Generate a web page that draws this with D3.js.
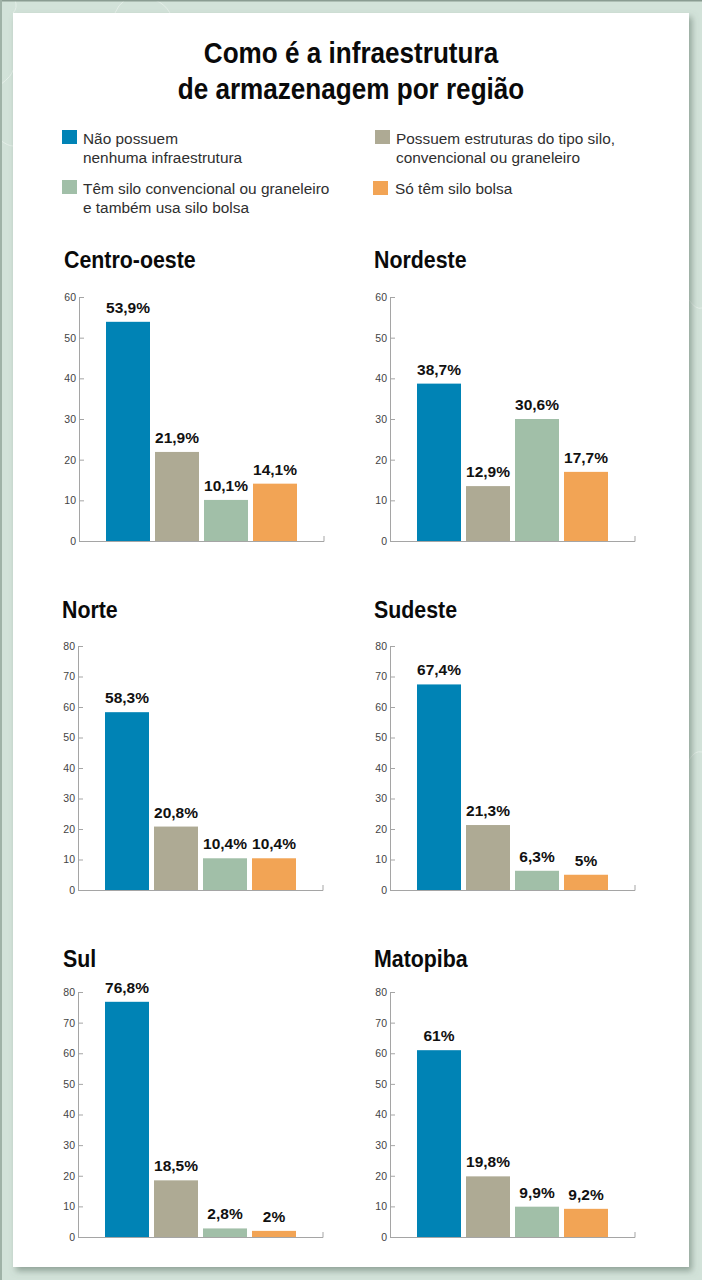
<!DOCTYPE html>
<html>
<head>
<meta charset="utf-8">
<script src="https://cdn.jsdelivr.net/npm/d3@7"></script>
<style>
html, body { margin: 0; padding: 0; background: #d2e2d9; }
svg { display: block; }
.tick text { font-family: "Liberation Sans", sans-serif; font-size: 10.5px; fill: #444; }
.tick line, .domain { stroke: #a5a5a5; stroke-width: 1; fill: none; }
</style>
</head>
<body>
<svg id="chart" width="702" height="1280"></svg>
<script>
// data
var categories = ['nenhuma', 'silo', 'ambos', 'bolsa'];
var colors = ['#0083b5', '#aeaa94', '#a1bfa8', '#f2a455'];
var regions = ['Centro-oeste', 'Nordeste', 'Norte', 'Sudeste', 'Sul', 'Matopiba'];
var centroOeste = [53.9, 21.9, 10.1, 14.1];
var nordeste = [38.7, 12.9, 30.6, 17.7];
var norte = [58.3, 20.8, 10.4, 10.4];
var sudeste = [67.4, 21.3, 6.3, 5];
var sul = [76.8, 18.5, 2.8, 2];
var matopiba = [61, 19.8, 9.9, 9.2];
var regionValues = [centroOeste, nordeste, norte, sudeste, sul, matopiba];
// the Nordeste bars in the picture don't quite agree with their printed labels
var nordesteHeights = [38.7, 13.5, 30, 17];
var regionHeights = [centroOeste, nordesteHeights, norte, sudeste, sul, matopiba];
var ticks60 = [0, 10, 20, 30, 40, 50, 60];
var ticks80 = [0, 10, 20, 30, 40, 50, 60, 70, 80];
var regionTicks = [ticks60, ticks60, ticks80, ticks80, ticks80, ticks80];
var titleLines = ['Como é a infraestrutura', 'de armazenagem por região'];
var legendLines = [
    ['Não possuem', 'nenhuma infraestrutura'],
    ['Possuem estruturas do tipo silo,', 'convencional ou graneleiro'],
    ['Têm silo convencional ou graneleiro', 'e também usa silo bolsa'],
    ['Só têm silo bolsa']
];

// layout, same order as regions
var frames = [
    {axisX: 79, barX: 106, top: 297, bottom: 541, titleX: 64, titleY: 268},
    {axisX: 390, barX: 417, top: 297, bottom: 541, titleX: 374, titleY: 268},
    {axisX: 78, barX: 105, top: 646, bottom: 890, titleX: 62, titleY: 618},
    {axisX: 390, barX: 417, top: 646, bottom: 890, titleX: 374, titleY: 618},
    {axisX: 78, barX: 105, top: 992, bottom: 1237, titleX: 63, titleY: 967},
    {axisX: 390, barX: 417, top: 992, bottom: 1237, titleX: 374, titleY: 967}
];
var legendPos = [
    {x: 62, y: 130, tx: 83, ty: 144, color: 0},
    {x: 375, y: 130, tx: 396, ty: 144, color: 1},
    {x: 62, y: 180, tx: 83, ty: 194, color: 2},
    {x: 373, y: 181, tx: 395, ty: 194, color: 3}
];
// faint line work in the page margin
var marginCurves = [
    'M0,85 Q12,76 13,70',
    'M0,140 Q8,146 13,146',
    'M15,0 Q18,8 13,13',
    'M115,13 Q118,5 125,0',
    'M170,13 Q165,4 155,0',
    'M689,300 Q696,310 702,308',
    'M689,760 Q695,750 702,752'
];

var svg = d3.select('#chart');
var defs = svg.append('defs');
var shadow = defs.append('filter').attr('id', 'shadow')
    .attr('x', '-5%').attr('y', '-5%').attr('width', '110%').attr('height', '110%');
shadow.append('feDropShadow')
    .attr('dx', 3).attr('dy', 4).attr('stdDeviation', 3)
    .attr('flood-color', '#5d6f64').attr('flood-opacity', 0.55);

// background
svg.append('rect').attr('width', 702).attr('height', 1280).attr('fill', '#d2e2d9');
svg.append('g').selectAll('path')
    .data(marginCurves)
    .enter()
    .append('path')
    .attr('d', function (d) { return d; })
    .attr('fill', 'none')
    .attr('stroke', '#e4eee8')
    .attr('stroke-width', 1);
svg.append('rect').attr('width', 702).attr('height', 1.5).attr('fill', '#8a9c92');
svg.append('rect').attr('width', 2).attr('height', 1280).attr('fill', '#9fb2a7');
svg.append('rect').attr('x', 13).attr('y', 13).attr('width', 676).attr('height', 1254)
    .attr('fill', '#fff').attr('filter', 'url(#shadow)');

// title, squeezed because no condensed face is installed
svg.append('g').selectAll('text')
    .data(titleLines)
    .enter()
    .append('text')
    .attr('transform', function (d, i) { return 'translate(351,' + (63 + i * 36) + ') scale(0.9,1)'; })
    .attr('text-anchor', 'middle')
    .attr('font-family', '"Liberation Sans", sans-serif')
    .attr('font-weight', 700)
    .attr('font-size', 29)
    .attr('fill', '#0a0a0a')
    .text(function (d) { return d; });

// legend
var legend = svg.append('g').selectAll('g')
    .data(legendPos)
    .enter()
    .append('g');

legend.append('rect')
    .attr('x', function (d) { return d.x; })
    .attr('y', function (d) { return d.y; })
    .attr('width', 15)
    .attr('height', 14)
    .attr('fill', function (d) { return colors[d.color]; });

legend.each(function (d, i) {
    d3.select(this).selectAll('text')
        .data(legendLines[i])
        .enter()
        .append('text')
        .attr('x', d.tx)
        .attr('y', function (line, j) { return d.ty + j * 18.5; })
        .attr('font-family', '"Liberation Sans", sans-serif')
        .attr('font-size', 15.4)
        .attr('fill', '#2f2f2f')
        .text(function (line) { return line; });
});

// one panel per region
regions.forEach(function (name, r) {
    var f = frames[r];
    var values = regionValues[r];
    var heights = regionHeights[r];
    var tickValues = regionTicks[r];
    var width = 245;

    var x = d3.scaleBand()
        .domain(categories)
        .range([f.barX, f.barX + 191])
        .paddingInner(5 / 49);

    var y = d3.scaleLinear()
        .domain([0, d3.max(tickValues)])
        .range([f.bottom, f.top]);

    var panel = svg.append('g');

    panel.append('text')
        .attr('transform', 'translate(' + f.titleX + ',' + f.titleY + ') scale(0.89,1)')
        .attr('font-family', '"Liberation Sans", sans-serif')
        .attr('font-weight', 700)
        .attr('font-size', 24)
        .attr('fill', '#0a0a0a')
        .text(name);

    panel.append('g')
        .attr('transform', 'translate(' + f.axisX + ',0)')
        .call(d3.axisLeft(y).tickValues(tickValues).tickSize(-5).tickSizeOuter(0).tickPadding(3));

    panel.append('path')
        .attr('class', 'domain')
        .attr('d', 'M' + f.axisX + ',' + (f.bottom + 0.5) + 'H' + (f.axisX + width) + 'V' + (f.bottom - 5));

    panel.selectAll('rect')
        .data(heights)
        .enter()
        .append('rect')
        .attr('x', function (d, i) { return x(categories[i]); })
        .attr('y', function (d) { return y(d); })
        .attr('width', x.bandwidth())
        .attr('height', function (d) { return f.bottom - y(d); })
        .attr('fill', function (d, i) { return colors[i]; });

    panel.selectAll('text.value')
        .data(values)
        .enter()
        .append('text')
        .attr('class', 'value')
        .attr('x', function (d, i) { return x(categories[i]) + x.bandwidth() / 2; })
        .attr('y', function (d, i) { return y(heights[i]) - 9; })
        .attr('text-anchor', 'middle')
        .attr('font-family', '"Liberation Sans", sans-serif')
        .attr('font-weight', 700)
        .attr('font-size', 15.5)
        .attr('fill', '#111')
        .text(function (d) { return String(d).replace('.', ',') + '%'; });
});
</script>
</body>
</html>
